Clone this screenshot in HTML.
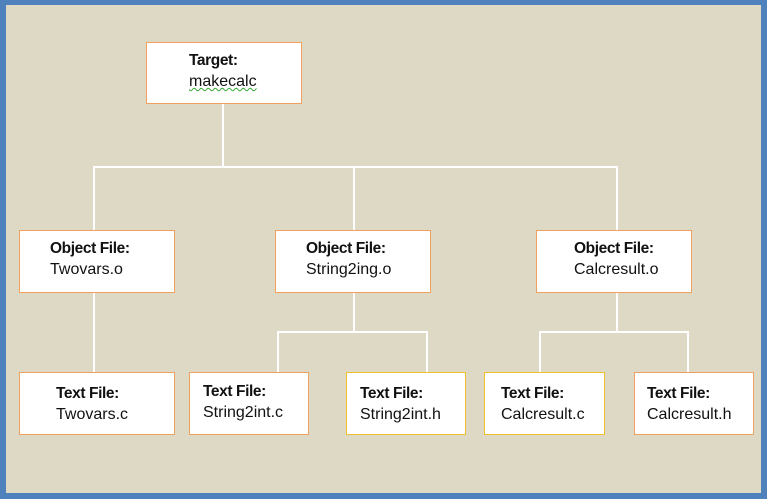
<!DOCTYPE html>
<html><head><meta charset="utf-8"><style>
html,body{margin:0;padding:0}
body{width:767px;height:500px;position:relative;overflow:hidden;background:#fff;font-family:"Liberation Sans",sans-serif}
#frame{position:absolute;left:0;top:0;width:755px;height:488px;border:6px solid #4f81bd;border-top-width:5px;background:#ddd9c4}
.b{position:absolute;background:#fff;border:1.5px solid #f0a060;box-sizing:border-box;color:#111}
.y{border-color:#f0c030}
.b .t{position:absolute;font-weight:bold;font-size:15.5px;letter-spacing:-0.4px;white-space:nowrap}
.b .s{position:absolute;font-size:16px;white-space:nowrap}
.l{position:absolute;background:#fff}
</style></head><body>
<div id="frame"></div>
<div class="l" style="left:222px;top:103px;width:1.5px;height:64px"></div>
<div class="l" style="left:93px;top:166px;width:525px;height:1.5px"></div>
<div class="l" style="left:93px;top:166px;width:1.5px;height:65px"></div>
<div class="l" style="left:353px;top:166px;width:1.5px;height:65px"></div>
<div class="l" style="left:616px;top:166px;width:1.5px;height:65px"></div>
<div class="l" style="left:93px;top:292px;width:1.5px;height:80px"></div>
<div class="l" style="left:353px;top:292px;width:1.5px;height:40px"></div>
<div class="l" style="left:277px;top:331px;width:150px;height:1.5px"></div>
<div class="l" style="left:277px;top:331px;width:1.5px;height:41px"></div>
<div class="l" style="left:426px;top:331px;width:1.5px;height:41px"></div>
<div class="l" style="left:616px;top:292px;width:1.5px;height:40px"></div>
<div class="l" style="left:539px;top:331px;width:149px;height:1.5px"></div>
<div class="l" style="left:539px;top:331px;width:1.5px;height:41px"></div>
<div class="l" style="left:687px;top:331px;width:1.5px;height:41px"></div>
<div class="b" style="left:146px;top:42px;width:156px;height:62px"><span class="t" style="left:42px;top:9px">Target:</span><span class="s" style="left:42px;top:30px;text-decoration:underline wavy #3a3;text-decoration-thickness:1px">makecalc</span></div>
<div class="b" style="left:19px;top:230px;width:156px;height:63px"><span class="t" style="left:30px;top:9px">Object File:</span><span class="s" style="left:30px;top:30px">Twovars.o</span></div>
<div class="b" style="left:275px;top:230px;width:156px;height:63px"><span class="t" style="left:30px;top:9px">Object File:</span><span class="s" style="left:30px;top:30px">String2ing.o</span></div>
<div class="b" style="left:536px;top:230px;width:156px;height:63px"><span class="t" style="left:37px;top:9px">Object File:</span><span class="s" style="left:37px;top:30px">Calcresult.o</span></div>
<div class="b" style="left:19px;top:372px;width:156px;height:63px"><span class="t" style="left:36px;top:12px">Text File:</span><span class="s" style="left:36px;top:33px">Twovars.c</span></div>
<div class="b" style="left:189px;top:372px;width:120px;height:63px"><span class="t" style="left:13px;top:10px">Text File:</span><span class="s" style="left:13px;top:31px">String2int.c</span></div>
<div class="b y" style="left:346px;top:372px;width:120px;height:63px"><span class="t" style="left:13px;top:12px">Text File:</span><span class="s" style="left:13px;top:33px">String2int.h</span></div>
<div class="b y" style="left:484px;top:372px;width:121px;height:63px"><span class="t" style="left:16px;top:12px">Text File:</span><span class="s" style="left:16px;top:33px">Calcresult.c</span></div>
<div class="b" style="left:634px;top:372px;width:120px;height:63px"><span class="t" style="left:12px;top:12px">Text File:</span><span class="s" style="left:12px;top:33px">Calcresult.h</span></div>
</body></html>
